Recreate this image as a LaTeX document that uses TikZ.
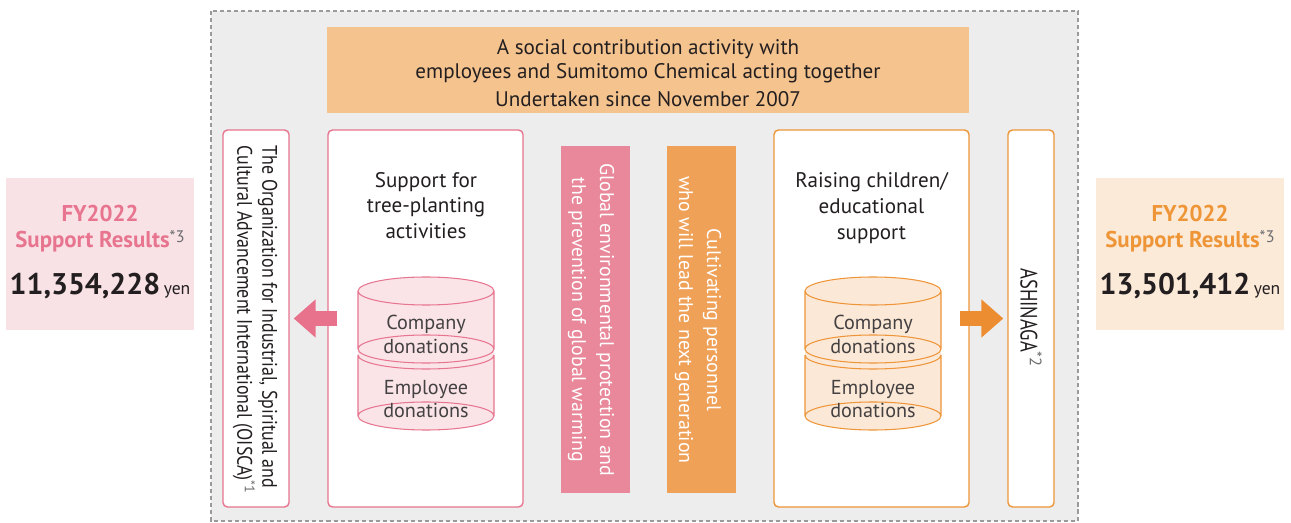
\documentclass[tikz,border=0pt]{standalone}
\usepackage{fontspec}
\setmainfont{PT Sans}
\newfontfamily\narrowfont[FakeStretch=0.85]{PT Sans}
\newfontfamily\tallfont[FakeStretch=0.78]{PT Sans}
\usetikzlibrary{arrows.meta}

\definecolor{ink}{HTML}{231F20}
\definecolor{notegrey}{HTML}{6D6E71}
\definecolor{framegrey}{HTML}{9A9A9A}
\definecolor{bggrey}{HTML}{EDEDED}
\definecolor{headfill}{HTML}{F5C38E}
\definecolor{pinkline}{HTML}{E8758F}
\definecolor{pinkbar}{HTML}{E8889A}
\definecolor{pinkarrow}{HTML}{E8718C}
\definecolor{pinkfill}{HTML}{FAE4E8}
\definecolor{pinkbg}{HTML}{F9E2E6}
\definecolor{orangeline}{HTML}{EE9538}
\definecolor{orangebar}{HTML}{F0A158}
\definecolor{orangearrow}{HTML}{EC8D32}
\definecolor{orangefill}{HTML}{FCE8D6}
\definecolor{orangebg}{HTML}{FCEAD9}

\newcommand{\noteref}[1]{\textsuperscript{\normalfont\color{notegrey}*#1}}
\newcommand{\resnote}[1]{\raisebox{0.45ex}{\fontsize{9.5}{10}\selectfont\normalfont\color{notegrey}*#1}}

\begin{document}
\begin{tikzpicture}[
                    x=0.02cm, y=-0.02cm,
                    every node/.style={font=\fontsize{12}{14.7}\selectfont, text=ink},
                    panel/.style={line width=0.8pt, rounded corners=2.5pt, fill=white,
                                  inner sep=0pt, minimum height=7.54cm},
                    bar/.style={inner sep=0pt, minimum width=1.38cm, minimum height=6.94cm},
                    bartext/.style={rotate=-90, align=center, text=white, font=\fontsize{11.3}{15.9}\selectfont},
                    resbox/.style={inner sep=0pt, minimum width=3.76cm, minimum height=3.04cm},
                    restitle/.style={anchor=base, font=\fontsize{13}{15}\selectfont\bfseries},
                    amount/.style={anchor=base, font=\fontsize{17}{20}\selectfont\bfseries},
                    fatarrow/.style={line width=0.32cm, shorten >=0.08cm,
                                     -{Triangle[length=0.44cm, width=0.74cm]}},
                    drumtext/.style={align=center, text=ink!85, font=\fontsize{11.5}{13.6}\selectfont}
                ]
  % frame of the joint activity
  \useasboundingbox (0,0) rectangle (1291,523);
  \draw[framegrey, fill=bggrey, line width=0.6pt, dash pattern=on 2.3pt off 1.7pt]
    (211,11) rectangle (1078,521);

  \node[fill=headfill, inner sep=0pt, minimum width=12.84cm, minimum height=1.72cm] (head) at (648,70) {};
  \node[align=center, font=\fontsize{12}{13.6}\selectfont] (headtxt) at (648,73)
    {A social contribution activity with\\employees and Sumitomo Chemical acting together\\[2.3pt]Undertaken since November 2007};

  % boxes
  \node[panel, draw=pinkline, minimum width=1.32cm] (oisca) at (256,318.5) {};
  \node[panel, draw=pinkline, minimum width=3.9cm] (tree) at (425.5,318.5) {};
  \node[bar, fill=pinkbar] (envbar) at (595.5,319.5) {};
  \node[bar, fill=orangebar] (genbar) at (701.5,319.5) {};
  \node[panel, draw=orangeline, minimum width=3.9cm] (raise) at (871.5,318.5) {};
  \node[panel, draw=orangeline, minimum width=0.92cm] (ashinaga) at (1031,318.5) {};

  % texts in the boxes
  \node[rotate=-90, align=left, font=\narrowfont\fontsize{12}{14.2}\selectfont] (oiscatxt) at (255,320)
    {The Organization for Industrial, Spiritual and\\Cultural Advancement International (OISCA)\noteref{1}};
  \node[align=center] (treetxt) at (426,205.5) {Support for\\tree-planting\\activities};
  \node[bartext] (envtxt) at (591,320)
    {Global environmental protection and\\the prevention of global warming};
  \node[bartext] (gentxt) at (698,320)
    {Cultivating personnel\\who will lead the next generation};
  \node[align=center] (raisetxt) at (871.5,208) {Raising children/\\educational\\support};
  \node[rotate=-90, font=\tallfont\fontsize{13.5}{16}\selectfont] (ashinagatxt) at (1031,318)
    {ASHINAGA\noteref{2}};

  % donation drums
  \foreach \cx/\cfill/\cline in {426/pinkfill/pinkline, 873/orangefill/orangeline}{
    \fill[\cfill] (\cx-68,291) -- (\cx-68,416) arc[start angle=180, end angle=0, x radius=68, y radius=14]
      -- (\cx+68,291) arc[start angle=0, end angle=-180, x radius=68, y radius=14] -- cycle;
    \draw[\cline, line width=0.6pt]
      (\cx,291) ellipse[x radius=68, y radius=14]
      (\cx,349) ellipse[x radius=68, y radius=14]
      (\cx,416) ellipse[x radius=68, y radius=14]
      (\cx-68,355) arc[start angle=180, end angle=0, x radius=68, y radius=14]
      (\cx-68,291) -- (\cx-68,349) (\cx+68,291) -- (\cx+68,349)
      (\cx-68,355) -- (\cx-68,416) (\cx+68,355) -- (\cx+68,416);
  }
  \node[drumtext] (compL) at (426,334) {Company\\donations};
  \node[drumtext] (empL) at (426,399) {Employee\\donations};
  \node[drumtext] (compR) at (873,334) {Company\\donations};
  \node[drumtext] (empR) at (873,399) {Employee\\donations};

  % flows to the partners
  \draw[fatarrow, pinkarrow] ([xshift=0.2cm]tree.west) -- (oisca.east);
  \draw[fatarrow, orangearrow] ([xshift=-0.2cm]raise.east) -- (ashinaga.west);

  % support results
  \node[resbox, fill=pinkbg] (resL) at (100,254) {};
  \node[restitle, text=pinkline] (fyL) at (100,222) {FY2022};
  \node[restitle, text=pinkline] (supL) at (100,248) {Support Results\resnote{3}};
  \node[amount] (amtL) at (100,295) {11,354,228\hspace{2pt}{\fontsize{10}{12}\selectfont\mdseries yen}};

  \node[resbox, fill=orangebg] (resR) at (1190,254) {};
  \node[restitle, text=orangeline] (fyR) at (1190,222) {FY2022};
  \node[restitle, text=orangeline] (supR) at (1190,248) {Support Results\resnote{3}};
  \node[amount] (amtR) at (1190,295) {13,501,412\hspace{2pt}{\fontsize{10}{12}\selectfont\mdseries yen}};
\end{tikzpicture}
\end{document}
